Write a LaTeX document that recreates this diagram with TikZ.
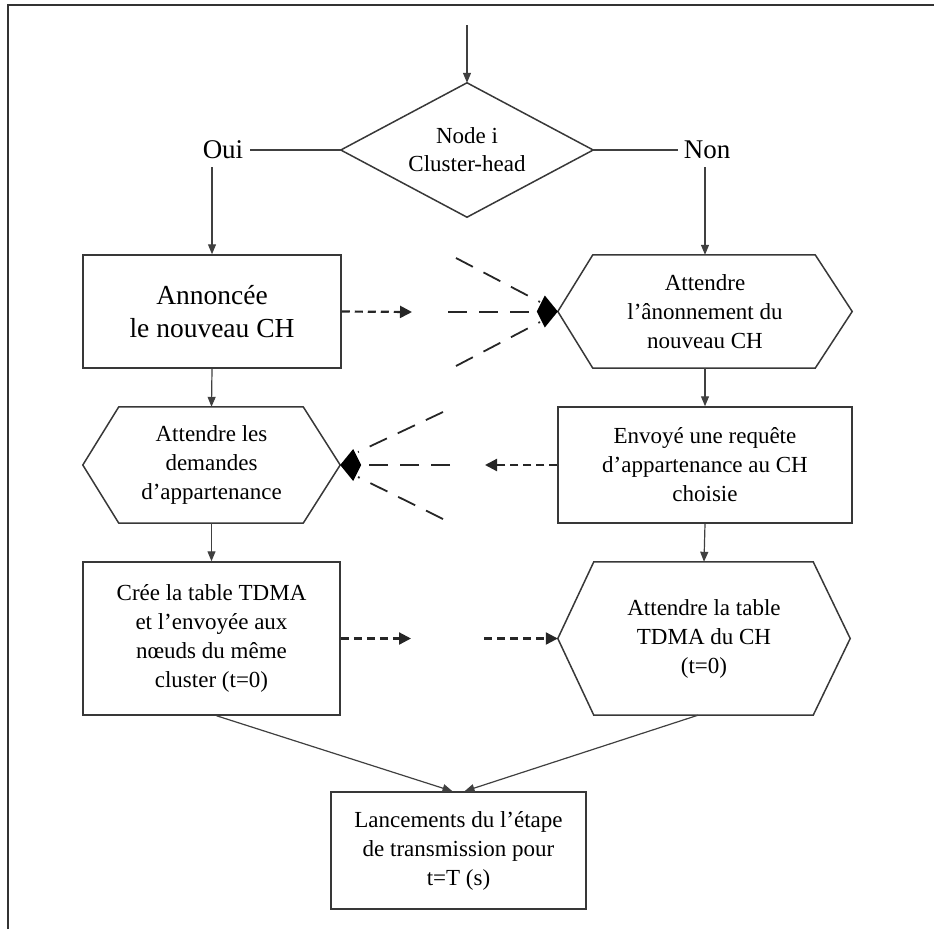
\documentclass[tikz,border=0pt]{standalone}
\usepackage{fontspec}
\setmainfont{Liberation Serif}
\usetikzlibrary{arrows.meta}
\begin{document}
\begin{tikzpicture}[x=1pt,y=-1pt,
  boxline/.style={draw=black!78,line width=1.5pt},
  txt/.style={align=center,inner sep=0pt,font=\fontsize{23}{29}\selectfont},
  rectbox/.style={boxline,txt,rectangle},
  hexbound/.style={txt,rectangle},
  conn/.style={draw=black!75,line width=1.2pt,-{Triangle[length=10pt,width=8pt]}},
  plainconn/.style={draw=black!75,line width=1.3pt},
  sdash/.style={draw=black!85,line width=2.2pt,dash pattern=on 8pt off 5pt,-{Triangle[length=12pt,width=12pt]}},
  ldash/.style={draw=black!85,line width=1.8pt,dash pattern=on 19pt off 12pt},
  bighead/.style={fill=black}
]
\useasboundingbox (0,0) rectangle (934,929);
% frame
\draw[line width=1.5pt,black!80] (8,929) -- (8,5) -- (934,5);

% decision
\node[hexbound,minimum width=252pt,minimum height=134pt,font=\fontsize{23}{28}\selectfont] (dec) at (467,150) {Node i\\Cluster-head};
\draw[boxline] (dec.west) -- (dec.north) -- (dec.east) -- (dec.south) -- cycle;
\coordinate (start) at (467,25);
\node[txt,font=\fontsize{27}{30}\selectfont] (oui) at (223,150) {Oui};
\node[txt,font=\fontsize{27}{30}\selectfont] (non) at (707,150) {Non};

% row 1
\node[rectbox,minimum width=258pt,minimum height=113pt,font=\fontsize{27.5}{33}\selectfont] (A) at (212,311.5) {Annoncée\\le nouveau CH};
\node[hexbound,minimum width=294pt,minimum height=113pt] (B) at (705,311.5) {Attendre\\l’ânonnement du\\nouveau CH};
\draw[boxline] (B.west) -- ([xshift=35pt]B.north west) -- ([xshift=-37pt]B.north east) -- (B.east)
   -- ([xshift=-37pt]B.south east) -- ([xshift=35pt]B.south west) -- cycle;

% row 2
\node[hexbound,minimum width=257pt,minimum height=116pt] (C) at (211.5,465) {Attendre les\\demandes\\d’appartenance};
\draw[boxline] (C.west) -- ([xshift=36pt]C.north west) -- ([xshift=-37pt]C.north east) -- (C.east)
   -- ([xshift=-37pt]C.south east) -- ([xshift=36pt]C.south west) -- cycle;
\node[rectbox,minimum width=294pt,minimum height=116pt] (D) at (705,465) {Envoyé une requête\\d’appartenance au CH\\choisie};

% row 3
\node[rectbox,minimum width=257pt,minimum height=153pt] (E) at (211.5,638.5) {Crée la table TDMA\\et l’envoyée aux\\nœuds du même\\cluster (t=0)};
\node[hexbound,minimum width=292pt,minimum height=153pt] (F) at (704,638.5) {Attendre la table\\TDMA du CH\\(t=0)};
\draw[boxline] (F.west) -- ([xshift=36pt]F.north west) -- ([xshift=-37pt]F.north east) -- (F.east)
   -- ([xshift=-37pt]F.south east) -- ([xshift=36pt]F.south west) -- cycle;

% final
\node[rectbox,minimum width=255pt,minimum height=117pt] (G) at (458.5,850.5) {Lancements du l’étape\\de transmission pour\\t=T (s)};

% main connectors
\draw[conn] (start) -- (dec.north);
\draw[plainconn] (dec.west) -- ([xshift=7pt]oui.east);
\draw[plainconn] (dec.east) -- ([xshift=-6pt]non.west);
\coordinate (ouidown) at (212,167);
\coordinate (nondown) at (705,167);
\draw[conn] (ouidown) -- (A.north);
\draw[conn] (nondown) -- (B.north);
\draw[conn] (A.south) -- (C.north);
\draw[conn] (B.south) -- (D.north);
\draw[conn] (C.south) -- (E.north);
\draw[conn] (D.south) -- (F.north);
\draw[conn] ([xshift=5pt]E.south) -- ([xshift=-6pt]G.north);
\draw[conn] ([xshift=-6pt]F.south) -- ([xshift=6pt]G.north);

% dashed A -> B
\coordinate (a1) at (412,312);
\draw[sdash] (A.east) -- (a1);
\coordinate (bback) at (537,312);
\coordinate (bm) at (448,312);
\coordinate (bu) at (456,258);
\coordinate (bue) at (540,302);
\coordinate (bl) at (456,366);
\coordinate (ble) at (540,322);
\draw[ldash] (bm) -- (bback);
\draw[ldash] (bu) -- (bue);
\draw[ldash] (bl) -- (ble);
\fill[bighead] (B.west) -- ++(-13,-16) -- ++(-8,16) -- ++(8,16) -- cycle;

% dashed D -> C
\coordinate (d1) at (485,465);
\draw[sdash] (D.west) -- (d1);
\coordinate (cback) at (361,465);
\coordinate (cm) at (450,465);
\coordinate (cu) at (443,412);
\coordinate (cue) at (358,452);
\coordinate (cl) at (443,519);
\coordinate (cle) at (358,477);
\draw[ldash] (cm) -- (cback);
\draw[ldash] (cu) -- (cue);
\draw[ldash] (cl) -- (cle);
\fill[bighead] (C.east) -- ++(13,-16) -- ++(8,16) -- ++(-8,16) -- cycle;

% dashed E -> F
\coordinate (e1) at (411,638.5);
\coordinate (e2) at (484,638.5);
\draw[sdash] (E.east) -- (e1);
\draw[sdash] (e2) -- (F.west);
\end{tikzpicture}
\end{document}
